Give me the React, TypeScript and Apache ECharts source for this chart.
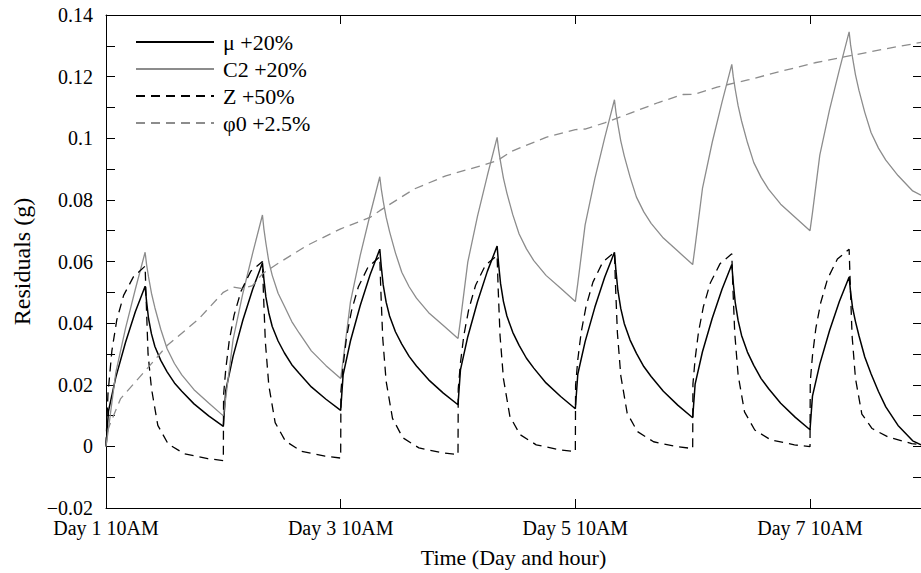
import React, { useEffect, useRef } from 'react';
import * as echarts from 'echarts';

const seriesNames = ['μ +20%', 'C2 +20%', 'Z +50%', 'φ0 +2.5%'];
const xTickLabels = ['Day 1 10AM', 'Day 3 10AM', 'Day 5 10AM', 'Day 7 10AM'];
const yTickLabels = ['−0.02', '0', '0.02', '0.04', '0.06', '0.08', '0.1', '0.12', '0.14'];

// [hours since Day 1 10AM, residual (g)]
const muData: number[][] = [
  [0, 0], [0.5, 0.0114], [2, 0.0224], [4, 0.0338], [6, 0.0437], [8, 0.052], [8.3, 0.047], [8.7, 0.0415], [9.3, 0.0365], [10, 0.0324], [11.2, 0.0279], [12.5, 0.0242], [14, 0.0206], [15.5, 0.0179], [18, 0.0138], [21, 0.0099],
  [24, 0.0065], [24.5, 0.0182], [26, 0.0293], [28, 0.041], [30, 0.051], [32, 0.0595], [32.3, 0.0542], [32.7, 0.0485], [33.3, 0.0433], [34, 0.0389], [35.2, 0.0342], [36.5, 0.0303], [38, 0.0265], [39.5, 0.0237], [42, 0.0193], [45, 0.0153],
  [48, 0.0117], [48.5, 0.0232], [50, 0.0342], [52, 0.0457], [54, 0.0556], [56, 0.064], [56.3, 0.0584], [56.7, 0.0524], [57.3, 0.0468], [58, 0.0423], [59.2, 0.0372], [60.5, 0.0332], [62, 0.0292], [63.5, 0.0261], [66, 0.0216], [69, 0.0173],
  [72, 0.0135], [72.5, 0.0248], [74, 0.0356], [76, 0.047], [78, 0.0568], [80, 0.065], [80.3, 0.0592], [80.7, 0.0529], [81.3, 0.047], [82, 0.0423], [83.2, 0.037], [84.5, 0.0328], [86, 0.0286], [87.5, 0.0254], [90, 0.0206], [93, 0.0162],
  [96, 0.0122], [96.5, 0.0234], [98, 0.034], [100, 0.0452], [102, 0.0549], [104, 0.063], [104.3, 0.0571], [104.7, 0.0506], [105.3, 0.0447], [106, 0.0399], [107.2, 0.0345], [108.5, 0.0302], [110, 0.0259], [111.5, 0.0227], [114, 0.0179], [117, 0.0133],
  [120, 0.0093], [120.5, 0.0202], [122, 0.0307], [124, 0.0416], [126, 0.051], [128, 0.059], [128.3, 0.0531], [128.7, 0.0467], [129.3, 0.0408], [130, 0.036], [131.2, 0.0306], [132.5, 0.0263], [134, 0.022], [135.5, 0.0188], [138, 0.014], [141, 0.0094],
  [144, 0.0054], [144.5, 0.0163], [146, 0.0267], [148, 0.0376], [150, 0.047], [152, 0.055], [152.3, 0.05], [152.7, 0.045], [153.3, 0.0405], [154, 0.036], [155.2, 0.029], [156.5, 0.0235], [158, 0.0178], [159.5, 0.0128], [162, 0.0068], [165, 0.0018], [166.7, 0.0005],
];

const c2Data: number[][] = [
  [0, 0], [0.5, 0.0057], [2, 0.0239], [4, 0.0384], [6, 0.051], [8, 0.063], [8.3, 0.059], [8.7, 0.055], [9.3, 0.0497], [10, 0.045], [11.2, 0.038], [12.5, 0.0317], [14, 0.0269], [15.5, 0.0232], [18, 0.0184], [21, 0.0141],
  [24, 0.0099], [24.5, 0.0158], [26, 0.0347], [28, 0.0497], [30, 0.0627], [32, 0.0751], [32.3, 0.0705], [32.7, 0.066], [33.3, 0.06], [34, 0.0555], [35.2, 0.0497], [36.5, 0.0455], [38, 0.0405], [39.5, 0.0368], [42, 0.031], [45, 0.0262],
  [48, 0.022], [48.5, 0.0279], [50, 0.0469], [52, 0.062], [54, 0.0751], [56, 0.0875], [56.3, 0.0836], [56.7, 0.0796], [57.3, 0.0744], [58, 0.0697], [59.2, 0.0628], [60.5, 0.0565], [62, 0.0518], [63.5, 0.0481], [66, 0.0434], [69, 0.0392],
  [72, 0.035], [72.5, 0.0409], [74, 0.0598], [76, 0.0748], [78, 0.0879], [80, 0.1003], [80.3, 0.0963], [80.7, 0.0923], [81.3, 0.087], [82, 0.0822], [83.2, 0.0752], [84.5, 0.0689], [86, 0.0641], [87.5, 0.0603], [90, 0.0555], [93, 0.0513],
  [96, 0.047], [96.5, 0.0529], [98, 0.0719], [100, 0.087], [102, 0.1001], [104, 0.1125], [104.3, 0.1085], [104.7, 0.1045], [105.3, 0.0991], [106, 0.0943], [107.2, 0.0874], [108.5, 0.0809], [110, 0.0761], [111.5, 0.0724], [114, 0.0676], [117, 0.0633],
  [120, 0.059], [120.5, 0.0649], [122, 0.0837], [124, 0.0987], [126, 0.1117], [128, 0.124], [128.3, 0.12], [128.7, 0.1159], [129.3, 0.1105], [130, 0.1056], [131.2, 0.0986], [132.5, 0.0921], [134, 0.0873], [135.5, 0.0835], [138, 0.0786], [141, 0.0743],
  [144, 0.07], [144.5, 0.0758], [146, 0.0945], [148, 0.1093], [150, 0.1222], [152, 0.1345], [152.3, 0.1303], [152.7, 0.1262], [153.3, 0.1206], [154, 0.1156], [155.2, 0.1084], [156.5, 0.1018], [158, 0.0968], [159.5, 0.0929], [162, 0.0879], [165, 0.0829], [166.7, 0.0815],
];

const zData: number[][] = [
  [0, 0], [0.1, 0.005], [0.4, 0.017], [1.2, 0.031], [2.2, 0.041], [3.6, 0.049], [5.6, 0.055], [8, 0.0585], [8.2, 0.0484], [8.6, 0.03], [9.3, 0.0188], [10.6, 0.0068], [12.7, 0.0008], [16, -0.0024], [20.8, -0.004],
  [24, -0.0046], [24.05, 0.0167], [24.5, 0.0251], [25.2, 0.0342], [26.2, 0.0426], [27.6, 0.0503], [29.6, 0.0568], [32, 0.06], [32.2, 0.0498], [32.6, 0.0338], [33.3, 0.0198], [34.6, 0.0077], [36.7, 0.0017], [40, -0.0016], [44.8, -0.0032],
  [48, -0.0038], [48.05, 0.0178], [48.5, 0.0262], [49.2, 0.0354], [50.2, 0.0439], [51.6, 0.0517], [53.6, 0.0582], [56, 0.0615], [56.2, 0.0512], [56.6, 0.0352], [57.3, 0.0211], [58.6, 0.0091], [60.7, 0.0028], [64, -0.0005], [68.8, -0.0021],
  [72, -0.0027], [72.05, 0.0187], [72.5, 0.0271], [73.2, 0.0361], [74.2, 0.0445], [75.6, 0.0523], [77.6, 0.0588], [80, 0.062], [80.2, 0.0518], [80.6, 0.0359], [81.3, 0.0219], [82.6, 0.0098], [84.7, 0.0038], [88, 0.0005], [92.8, -0.0011],
  [96, -0.0017], [96.05, 0.0197], [96.5, 0.0281], [97.2, 0.0371], [98.2, 0.0455], [99.6, 0.0533], [101.6, 0.0598], [104, 0.063], [104.2, 0.0528], [104.6, 0.0369], [105.3, 0.0229], [106.6, 0.0108], [108.7, 0.0048], [112, 0.0015], [116.8, -0.0001],
  [120, -0.0007], [120.05, 0.0202], [120.5, 0.0284], [121.2, 0.0372], [122.2, 0.0454], [123.6, 0.053], [125.6, 0.0593], [128, 0.0625], [128.2, 0.0525], [128.6, 0.0368], [129.3, 0.0231], [130.6, 0.0112], [132.7, 0.0053], [136, 0.0021], [140.8, 0.0005],
  [144, -0.0001], [144.05, 0.021], [144.5, 0.0294], [145.2, 0.0384], [146.2, 0.0467], [147.6, 0.0544], [149.6, 0.0608], [152, 0.064], [152.2, 0.054], [152.6, 0.036], [153.3, 0.022], [154.6, 0.0105], [156.7, 0.0058], [160, 0.003], [164.8, 0.0009], [166.7, 0.0005],
];

const phiData: number[][] = [
  [0, 0], [0.5, 0.006], [3, 0.0155], [8, 0.0245], [12.5, 0.0327], [19, 0.0414], [24, 0.05], [26, 0.0517], [28, 0.0512], [30, 0.0522], [32, 0.056], [35, 0.0592],
  [41, 0.0651], [48, 0.0706], [54, 0.0743], [56, 0.0765], [63, 0.0835], [69.5, 0.0878], [76.5, 0.091], [80, 0.0927], [83, 0.0958], [90, 0.1003], [96, 0.1028],
  [98, 0.103], [102, 0.105], [107, 0.108], [113, 0.1116], [118, 0.1142], [120.5, 0.1143], [125, 0.1166], [131.5, 0.119], [138.5, 0.1219], [145, 0.1245],
  [152, 0.1267], [159, 0.1289], [166.7, 0.1311],
];

const FONT = '"Liberation Serif", "Times New Roman", serif';
const GRAY = '#8c8c8c';

export default function App() {
  const ref = useRef<HTMLDivElement>(null);
  useEffect(() => {
    if (!ref.current) return;
    const chart = echarts.init(ref.current, undefined, { renderer: 'svg' });
    const xMin = 0;
    const xMax = 166.7;
    const yMin = -0.02;
    const yMax = 0.14;
    const xLabel = (v: number) => {
      const i = Math.round(v / 48);
      return Math.abs(v - i * 48) < 1e-6 && i < xTickLabels.length ? xTickLabels[i] : '';
    };
    const yLabel = (v: number) => {
      const i = Math.round((v - yMin) / 0.01);
      return i % 2 === 0 ? yTickLabels[i / 2] ?? '' : '';
    };
    const axisLine = { show: true, onZero: false, lineStyle: { color: '#000', width: 1 } };
    const tick = { show: true, inside: true, length: 9, lineStyle: { color: '#000', width: 1 } };
    const mkSeries = (name: string, data: number[][], color: string, type: string, width: number) => ({
      name,
      type: 'line',
      data,
      showSymbol: false,
      symbol: 'none',
      xAxisIndex: 0,
      yAxisIndex: 0,
      lineStyle: { color, width, type: type === 'dashed' ? [9, 6] : 'solid' },
      itemStyle: { color },
      z: 2,
    });
    chart.setOption({
      animation: false,
      backgroundColor: '#fff',
      grid: { left: 106, right: -1, top: 15, bottom: 64, containLabel: false },
      legend: {
        orient: 'vertical',
        left: 135,
        top: 31,
        padding: 0,
        itemWidth: 78,
        itemHeight: 14,
        itemGap: 5,
        data: seriesNames,
        itemStyle: { color: 'rgba(0,0,0,0)', borderColor: 'rgba(0,0,0,0)', borderWidth: 0, opacity: 0 },
        textStyle: { fontFamily: FONT, fontSize: 22, color: '#000', padding: [0, 0, 0, 4] },
        selectedMode: false,
      },
      xAxis: [
        {
          type: 'value',
          position: 'bottom',
          min: xMin,
          max: xMax,
          interval: 48,
          axisLine,
          axisTick: tick,
          splitLine: { show: false },
          axisLabel: {
            formatter: xLabel,
            fontFamily: FONT,
            fontSize: 20,
            color: '#000',
            margin: 10,
            showMaxLabel: false,
          },
          name: 'Time (Day and hour)',
          nameLocation: 'middle',
          nameGap: 38,
          nameTextStyle: { fontFamily: FONT, fontSize: 22, color: '#000' },
        },
        {
          type: 'value',
          position: 'top',
          min: xMin,
          max: xMax,
          interval: 48,
          axisLine,
          axisTick: tick,
          splitLine: { show: false },
          axisLabel: { show: false },
        },
      ],
      yAxis: [
        {
          type: 'value',
          position: 'left',
          min: yMin,
          max: yMax,
          interval: 0.01,
          axisLine,
          axisTick: tick,
          splitLine: { show: false },
          axisLabel: { formatter: yLabel, fontFamily: FONT, fontSize: 20, color: '#000', margin: 13 },
          name: 'Residuals (g)',
          nameLocation: 'middle',
          nameGap: 72,
          nameRotate: 90,
          nameTextStyle: { fontFamily: FONT, fontSize: 24, color: '#000' },
        },
        {
          type: 'value',
          position: 'right',
          min: yMin,
          max: yMax,
          interval: 0.01,
          axisLine,
          axisTick: { ...tick, length: 8 },
          splitLine: { show: false },
          axisLabel: { show: false },
        },
      ],
      series: [
        mkSeries(seriesNames[0], muData, '#000', 'solid', 1.5),
        mkSeries(seriesNames[1], c2Data, GRAY, 'solid', 1.3),
        mkSeries(seriesNames[2], zData, '#000', 'dashed', 1.3),
        mkSeries(seriesNames[3], phiData, GRAY, 'dashed', 1.3),
      ],
    });
    return () => chart.dispose();
  }, []);
  return (
    <div
      ref={ref}
      style={{ position: 'fixed', left: 0, top: 0, width: 921, height: 573, background: '#fff' }}
    />
  );
}
